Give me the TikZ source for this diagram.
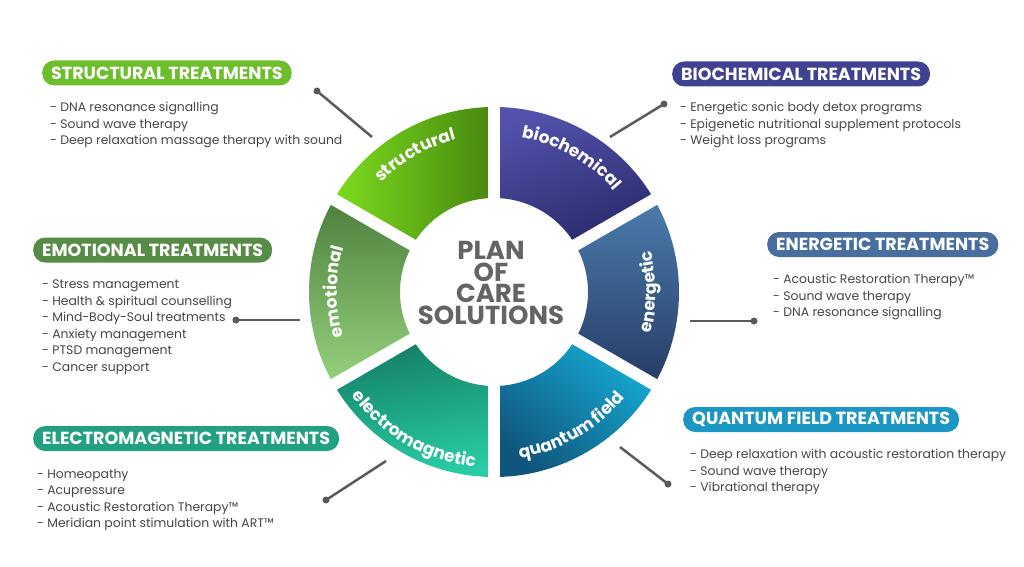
\documentclass[tikz,border=0pt]{standalone}
\usepackage{fontspec}
\setmainfont{Poppins}
\usetikzlibrary{decorations.text}

\definecolor{strC}{RGB}{108,190,42}
\definecolor{bioC}{RGB}{64,66,145}
\definecolor{emoC}{RGB}{86,140,70}
\definecolor{eneC}{RGB}{72,110,160}
\definecolor{eleC}{RGB}{34,160,130}
\definecolor{quaC}{RGB}{28,150,195}
\definecolor{bodygray}{RGB}{70,70,70}
\definecolor{titlegray}{RGB}{100,100,100}
\definecolor{leadgray}{RGB}{90,90,90}

\begin{document}
\begin{tikzpicture}[x=1pt, y=1pt,
  pill/.style={fill=#1, rounded corners=12pt, text=white, anchor=west,
               font=\fontsize{17.5}{17.5}\selectfont\bfseries, minimum height=25pt, inner xsep=9pt},
  items/.style={anchor=north west, align=left, inner sep=0pt, text=bodygray,
                font=\fontsize{12.4}{16.5}\selectfont},
  lead/.style={line width=2.5pt, draw=leadgray},
  dot/.style={circle, fill=leadgray, inner sep=0pt, minimum size=7pt},
  gap/.style={line width=12pt, draw=white}
]
  \useasboundingbox[fill=white] (0,0) rectangle (1024,566);

  %-- Roue
  \begin{scope}[shift={(494,274)}]
    \shade[left color={rgb,255:red,125;green,220;blue,30}, right color={rgb,255:red,70;green,135;blue,15}]
      (150:94) arc[start angle=150, end angle=90, radius=94] -- (90:185) arc[start angle=90, end angle=150, radius=185] -- cycle;
    \shade[top color={rgb,255:red,82;green,82;blue,172}, bottom color={rgb,255:red,42;green,42;blue,108}, shading angle=20]
      (90:94) arc[start angle=90, end angle=30, radius=94] -- (30:185) arc[start angle=30, end angle=90, radius=185] -- cycle;
    \shade[top color={rgb,255:red,76;green,124;blue,174}, bottom color={rgb,255:red,38;green,60;blue,100}]
      (30:94) arc[start angle=30, end angle=-30, radius=94] -- (-30:185) arc[start angle=-30, end angle=30, radius=185] -- cycle;
    \shade[top color={rgb,255:red,22;green,170;blue,210}, bottom color={rgb,255:red,16;green,85;blue,125}, shading angle=-40]
      (-30:94) arc[start angle=-30, end angle=-90, radius=94] -- (-90:185) arc[start angle=-90, end angle=-30, radius=185] -- cycle;
    \shade[top color={rgb,255:red,20;green,125;blue,100}, bottom color={rgb,255:red,40;green,205;blue,165}, shading angle=10]
      (270:94) arc[start angle=270, end angle=210, radius=94] -- (210:185) arc[start angle=210, end angle=270, radius=185] -- cycle;
    \shade[top color={rgb,255:red,78;green,128;blue,62}, bottom color={rgb,255:red,150;green,210;blue,125}]
      (210:94) arc[start angle=210, end angle=150, radius=94] -- (150:185) arc[start angle=150, end angle=210, radius=185] -- cycle;
    \foreach \a in {30,90,...,330}
      \draw[gap] (0,0) -- (\a:192);

    %-- Etiquettes de la roue
    \path[decorate, decoration={text along path, text align=center, text color=white,
      text={|\fontsize{17}{17}\selectfont\bfseries|structural}}]
      (155:157) arc[start angle=155, end angle=85, radius=157];
    \path[decorate, decoration={text along path, text align=center, text color=white,
      text={|\fontsize{17}{17}\selectfont\bfseries|biochemical}}]
      (95:157) arc[start angle=95, end angle=25, radius=157];
    \path[decorate, decoration={text along path, text align=center, text color=white,
      text={|\fontsize{17}{17}\selectfont\bfseries|energetic}}]
      (-35:162) arc[start angle=-35, end angle=35, radius=162];
    \path[decorate, decoration={text along path, text align=center, text color=white,
      text={|\fontsize{17}{17}\selectfont\bfseries|quantum field}}]
      (-95:168) arc[start angle=-95, end angle=-25, radius=168];
    \path[decorate, decoration={text along path, text align=center, text color=white,
      text={|\fontsize{17}{17}\selectfont\bfseries|electromagnetic}}]
      (205:176) arc[start angle=205, end angle=275, radius=176];
    \path[decorate, decoration={text along path, text align=center, text color=white,
      text={|\fontsize{17}{17}\selectfont\bfseries|emotional}}]
      (215:157) arc[start angle=215, end angle=145, radius=157];
  \end{scope}

  \node[align=center, text=titlegray, font=\fontsize{26}{21.5}\selectfont\bfseries] (title) at (491,283)
    {PLAN\\OF\\CARE\\SOLUTIONS};

  %-- Titres
  \node[pill=strC] (strT) at (42,493)    {STRUCTURAL TREATMENTS};
  \node[pill=bioC] (bioT) at (672,492)   {BIOCHEMICAL TREATMENTS};
  \node[pill=emoC] (emoT) at (33,316)    {EMOTIONAL TREATMENTS};
  \node[pill=eneC] (eneT) at (767,321.5) {ENERGETIC TREATMENTS};
  \node[pill=eleC] (eleT) at (33,127.5)  {ELECTROMAGNETIC TREATMENTS};
  \node[pill=quaC] (quaT) at (683,146.5) {QUANTUM FIELD TREATMENTS};

  %-- Listes
  \node[items] (strL) at (50,464)  {- DNA resonance signalling\\- Sound wave therapy\\- Deep relaxation massage therapy with sound};
  \node[items] (bioL) at (680,464) {- Energetic sonic body detox programs\\- Epigenetic nutritional supplement protocols\\- Weight loss programs};
  \node[items] (emoL) at (42,286)  {- Stress management\\- Health \& spiritual counselling\\- Mind-Body-Soul treatments\\- Anxiety management\\- PTSD management\\- Cancer support};
  \node[items] (eneL) at (773,292) {- Acoustic Restoration Therapy™\\- Sound wave therapy\\- DNA resonance signalling};
  \node[items] (eleL) at (37,97)   {- Homeopathy\\- Acupressure\\- Acoustic Restoration Therapy™\\- Meridian point stimulation with ART™};
  \node[items] (quaL) at (690,117) {- Deep relaxation with acoustic restoration therapy\\- Sound wave therapy\\- Vibrational therapy};

  %-- Traits
  \node[dot] (strD) at (317,475) {};
  \node[dot] (bioD) at (664,462) {};
  \node[dot] (emoD) at (236,246) {};
  \node[dot] (eneD) at (754,245) {};
  \node[dot] (eleD) at (326,66)  {};
  \node[dot] (quaD) at (668,82)  {};
  \coordinate (strE) at (372,429);
  \coordinate (bioE) at (610,429);
  \coordinate (emoE) at (300,246);
  \coordinate (eneE) at (690,245);
  \coordinate (eleE) at (386,105);
  \coordinate (quaE) at (620,119);
  \draw[lead] (strD.center) -- (strE);
  \draw[lead] (bioE) -- (bioD.center);
  \draw[lead] (emoD.center) -- (emoE);
  \draw[lead] (eneE) -- (eneD.center);
  \draw[lead] (eleD.center) -- (eleE);
  \draw[lead] (quaE) -- (quaD.center);
\end{tikzpicture}
\end{document}
